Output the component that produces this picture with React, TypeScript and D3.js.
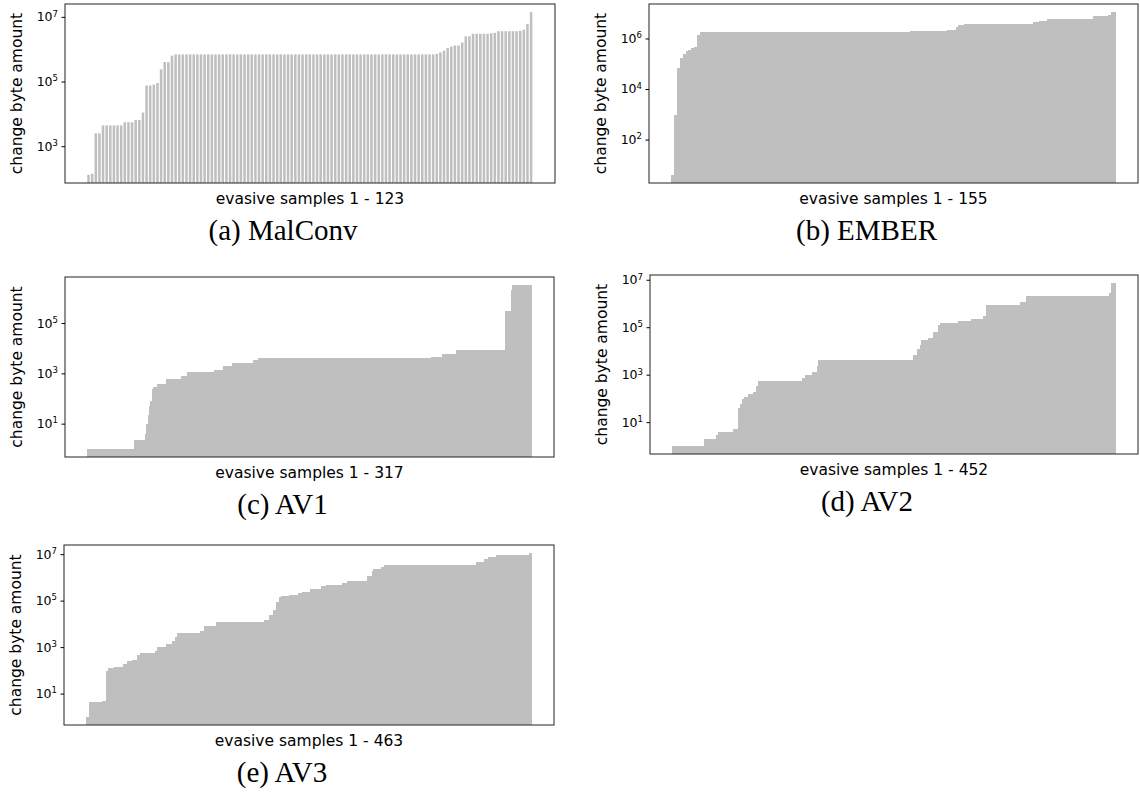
import React, { useEffect, useRef } from "react";
import * as d3 from "d3";

// bar heights, kept as [value, number of bars] runs (sorted ascending)
const malconvRuns = [
  [130, 1], [140, 1], [2500, 2], [4400, 6], [5500, 3], [6500, 2], [11000, 1],
  [75000, 2], [80000, 1], [90000, 1], [2.4e5, 1], [4.0e5, 2], [6.3e5, 1],
  [6.9e5, 72],
  [7.2e5, 1], [8.0e5, 1], [9.0e5, 1], [1.1e6, 1], [1.2e6, 1], [1.3e6, 2], [1.6e6, 1],
  [2.5e6, 2], [3.0e6, 5], [3.1e6, 1], [3.2e6, 1], [3.6e6, 6], [3.7e6, 1], [4.0e6, 1],
  [6.0e6, 1], [1.4e7, 1],
];

const emberRuns = [
  [4, 1], [900, 1], [65000, 1], [1.7e5, 1], [2.5e5, 1], [3.1e5, 1], [3.6e5, 1],
  [4.2e5, 1], [4.5e5, 1], [1.4e6, 1], [1.8e6, 73], [2.0e6, 13], [2.15e6, 3],
  [2.8e6, 1], [3.4e6, 2], [3.8e6, 24], [4.3e6, 2], [5.0e6, 3], [6.0e6, 16],
  [7.9e6, 5], [8.5e6, 1], [1.1e7, 2],
];

const av1Runs = [
  [1, 33], [2.2, 8], [4, 1], [10, 1], [23, 1], [50, 1], [80, 1], [230, 1],
  [300, 3], [390, 6], [580, 11], [780, 4], [1100, 19], [1400, 7], [1900, 6],
  [2600, 15], [3300, 4], [4100, 123], [4600, 8], [5900, 10], [8700, 35],
  [2.9e5, 4], [2.0e6, 1], [3.2e6, 14],
];

const av2Runs = [
  [1, 32], [2, 13], [3, 2], [4, 15], [5, 5], [40, 2], [56, 2], [90, 2], [120, 4],
  [150, 5], [190, 3], [330, 2], [540, 45], [740, 3], [1000, 7], [1250, 5],
  [2300, 2], [4000, 96], [7000, 4], [12000, 3], [17000, 1], [30000, 8],
  [35000, 5], [62000, 5], [1.2e5, 2], [1.5e5, 18], [1.8e5, 13], [2.2e5, 13],
  [2.9e5, 3], [8.9e5, 34], [1.15e6, 6], [2.0e6, 85], [2.8e6, 2], [7.2e6, 5],
];

const av3Runs = [
  [1, 3], [4.2, 13], [5, 4], [93, 3], [120, 6], [140, 9], [180, 4], [250, 5],
  [280, 6], [450, 3], [550, 15], [690, 3], [1000, 9], [1400, 6], [1800, 3],
  [2600, 2], [4100, 24], [5100, 4], [8500, 13], [12300, 50], [15000, 5],
  [23000, 4], [40000, 3], [87000, 3], [1.45e5, 2], [1.65e5, 9], [1.8e5, 9],
  [2.1e5, 4], [2.4e5, 8], [3.2e5, 12], [4.2e5, 5], [4.8e5, 17], [5.5e5, 5],
  [6.7e5, 21], [1.15e6, 5], [1.9e6, 1], [2.4e6, 8], [2.9e6, 3], [3.3e6, 96],
  [4.6e6, 8], [5.9e6, 4], [7.4e6, 9], [9.1e6, 34], [1.1e7, 3],
];

// labelled decades on each y axis
const malconvTicks = [3, 5, 7];
const emberTicks = [2, 4, 6];
const av1Ticks = [1, 3, 5];
const av2Ticks = [1, 3, 5, 7];
const av3Ticks = [1, 3, 5, 7];

const captions = ["(a) MalConv", "(b) EMBER", "(c) AV1", "(d) AV2", "(e) AV3"];

const panels = [
  { runs: malconvRuns, ticks: malconvTicks, caption: captions[0], gaps: true, left: 65, top: 4, width: 490, height: 179 },
  { runs: emberRuns, ticks: emberTicks, caption: captions[1], gaps: false, left: 649, top: 4, width: 489, height: 179 },
  { runs: av1Runs, ticks: av1Ticks, caption: captions[2], gaps: false, left: 65, top: 277, width: 489, height: 180 },
  { runs: av2Runs, ticks: av2Ticks, caption: captions[3], gaps: false, left: 650, top: 275, width: 488, height: 179 },
  { runs: av3Runs, ticks: av3Ticks, caption: captions[4], gaps: false, left: 64, top: 545, width: 490, height: 180 },
];

const sans = "'DejaVu Sans', sans-serif";
const serif = "'Liberation Serif', 'DejaVu Serif', serif";

function expand(runs) {
  return runs.flatMap(([v, n]) => Array(n).fill(v));
}

function drawPanel(svg, p) {
  const values = expand(p.runs);
  const n = values.length;
  const bottom = p.top + p.height;

  // matplotlib-like limits: bars of width 0.8, 5% margins
  const pad = 0.05 * (n - 1 + 0.8);
  const x = d3.scaleLinear()
    .domain([-0.4 - pad, n - 1 + 0.4 + pad])
    .range([p.left, p.left + p.width]);

  const lo = d3.min(values), hi = d3.max(values);
  const m = Math.pow(10, 0.05 * (Math.log10(hi) - Math.log10(lo)));
  const y = d3.scaleLog().domain([lo / m, hi * m]).range([bottom, p.top]);

  const g = svg.append("g");
  const step = x(1) - x(0);

  const bars = g.selectAll("rect.bar")
    .data(values)
    .join("rect")
    .attr("class", "bar")
    .attr("x", (d, i) => x(i - 0.4))
    .attr("width", (d, i) => p.gaps ? step - 1.1 : (i === n - 1 ? x(0.8) - x(0) : step))
    .attr("y", d => y(d))
    .attr("height", d => bottom - y(d))
    .attr("fill", "#bfbfbf");
  if (!p.gaps) bars.attr("shape-rendering", "crispEdges");

  // frame
  g.append("rect")
    .attr("x", p.left)
    .attr("y", p.top)
    .attr("width", p.width)
    .attr("height", p.height)
    .attr("fill", "none")
    .attr("stroke", "#222")
    .attr("stroke-width", 1);

  // y axis
  const ax = g.append("g")
    .attr("transform", `translate(${p.left},0)`)
    .call(d3.axisLeft(y)
      .tickValues(p.ticks.map(e => Math.pow(10, e)))
      .tickSize(3.5)
      .tickPadding(3.5)
      .tickFormat(() => ""));
  ax.select(".domain").remove();
  ax.attr("font-family", sans).attr("font-size", 12.5);
  ax.selectAll(".tick line").attr("stroke", "#000");
  ax.selectAll(".tick text")
    .attr("fill", "#000")
    .each(function (d) {
      const t = d3.select(this);
      t.text("10");
      t.append("tspan")
        .attr("dy", "-0.55em")
        .attr("font-size", 8.5)
        .text(Math.round(Math.log10(d)));
    });

  // axis labels
  g.append("text")
    .attr("x", p.left + p.width / 2)
    .attr("y", bottom + 21)
    .attr("text-anchor", "middle")
    .attr("font-family", sans)
    .attr("font-size", 15.5)
    .text(`evasive samples 1 - ${n}`);

  g.append("text")
    .attr("transform", `translate(${p.left - 48},${p.top + p.height / 2}) rotate(-90)`)
    .attr("text-anchor", "middle")
    .attr("dominant-baseline", "central")
    .attr("font-family", sans)
    .attr("font-size", 15.5)
    .text("change byte amount");

  // subfigure caption
  g.append("text")
    .attr("x", p.left + p.width / 2 - 27)
    .attr("y", bottom + 57)
    .attr("text-anchor", "middle")
    .attr("font-family", serif)
    .attr("font-size", 29)
    .text(p.caption);
}

export default function App() {
  const ref = useRef(null);

  useEffect(() => {
    const svg = d3.select(ref.current);
    svg.selectAll("*").remove();
    panels.forEach(p => drawPanel(svg, p));
  }, []);

  return (
    <svg
      ref={ref}
      width={1140}
      height={794}
      style={{ position: "absolute", left: 0, top: 0, background: "#fff" }}
    />
  );
}
